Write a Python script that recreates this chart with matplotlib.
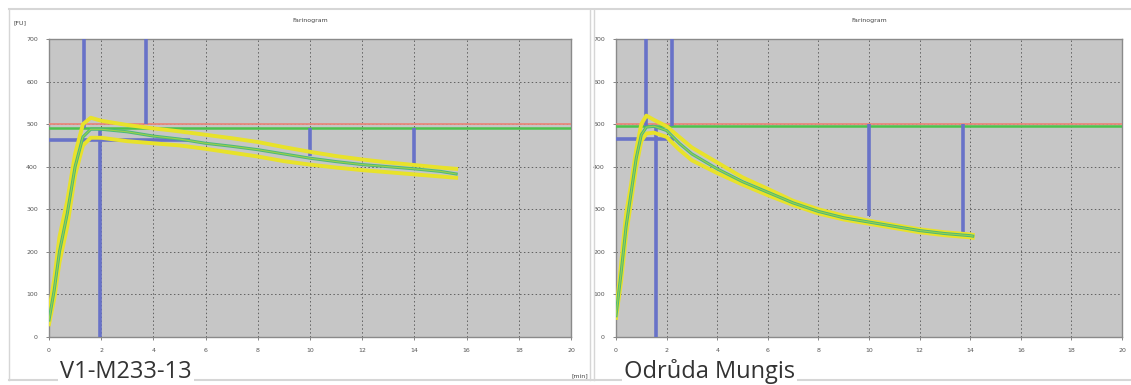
import numpy as np
import matplotlib.pyplot as plt
from matplotlib.lines import Line2D

# left panel - V1-M233-13
left_x = [0, 0.2, 0.4, 0.7, 1.0, 1.3, 1.6, 2.0, 3, 4, 5, 6, 7, 8, 9, 10, 11, 12, 13, 14, 15, 15.6]
left_mid = [40, 110, 200, 290, 400, 470, 488, 488, 482, 472, 465, 455, 448, 440, 430, 420, 412, 405, 400, 395, 389, 383]
left_hi = [60, 135, 235, 320, 430, 500, 515, 508, 498, 490, 483, 475, 467, 458, 446, 435, 425, 417, 410, 404, 398, 395]
left_lo = [30, 90, 175, 260, 380, 450, 468, 468, 460, 455, 450, 442, 433, 424, 413, 405, 398, 392, 387, 382, 377, 374]

# right panel - Odrůda Mungis
right_x = [0, 0.2, 0.4, 0.6, 0.8, 1.0, 1.2, 1.5, 2.0, 2.5, 3, 4, 5, 6, 7, 8, 9, 10, 11, 12, 13, 14, 14.1]
right_mid = [50, 150, 260, 340, 420, 475, 493, 495, 485, 455, 430, 395, 365, 340, 315, 295, 280, 270, 260, 250, 243, 238, 237]
right_hi = [55, 170, 290, 360, 440, 500, 520, 510, 495, 470, 445, 410, 375, 348, 320, 300, 285, 273, 263, 253, 246, 241, 240]
right_lo = [45, 130, 240, 320, 400, 460, 478, 480, 470, 440, 415, 385, 358, 333, 310, 290, 276, 266, 256, 246, 239, 234, 233]

# reference lines: (red level, green level)
left_levels = (500, 490)
right_levels = (500, 496)

# blue marker segments: (x0, x1, y0, y1)
left_marks = [(1.33, 1.33, 490, 700), (3.7, 3.7, 500, 700), (1.95, 1.95, 0, 490),
              (0, 5.4, 462, 462), (10.0, 10.0, 425, 490), (14.0, 14.0, 400, 490)]
right_marks = [(1.2, 1.2, 495, 700), (2.2, 2.2, 495, 700), (1.6, 1.6, 0, 495),
               (0, 2.3, 465, 465), (10.0, 10.0, 285, 500), (13.7, 13.7, 242, 500)]

xticks = list(range(0, 21, 2))
yticks = list(range(0, 701, 100))

W, H = 1131, 385
fig = plt.figure(figsize=(W / 100, H / 100), dpi=100)
fig.patch.set_facecolor('white')


def px(x0, y0, x1, y1):
    # pixel box (top-left origin) -> figure fraction rect
    return [x0 / W, 1 - y1 / H, (x1 - x0) / W, (y1 - y0) / H]


def draw_panel(rect, xs, mid, hi, lo, levels, marks, label, label_x):
    ax = fig.add_axes(rect)
    ax.set_facecolor('#c6c6c6')
    ax.set_xlim(0, 20)
    ax.set_ylim(0, 700)
    ax.set_xticks(xticks)
    ax.set_yticks(yticks)
    ax.tick_params(labelsize=4.5, colors='#555555', length=2, width=0.5, pad=6)
    ax.grid(True, color='#606060', linestyle=(0, (1.5, 2.5)), linewidth=0.7)
    ax.set_axisbelow(True)
    for s in ax.spines.values():
        s.set_color('#8a8a8a')
        s.set_linewidth(1.0)

    ax.axhline(levels[0], color='#e8897c', lw=1.3, zorder=3)
    ax.axhline(levels[1], color='#4cc24c', lw=1.8, zorder=3)
    for x0, x1, y0, y1 in marks:
        ax.plot([x0, x1], [y0, y1], color='#6872c8', lw=2.6, zorder=3, solid_capstyle='butt')

    ax.plot(xs, hi, color='#e8e22a', lw=2.8, zorder=4)
    ax.plot(xs, lo, color='#e8e22a', lw=2.8, zorder=4)
    ax.plot(xs, mid, color='#4cb87a', lw=2.2, zorder=5)
    ax.plot(xs, mid, color='#9ad24a', lw=0.8, zorder=6)

    ax.set_title('Farinogram', fontsize=4.5, color='#444444', pad=12)
    fig.text(label_x, 7 / H, label, fontsize=17, family='Open Sans', color='#333333',
             va='baseline', ha='left', zorder=10,
             bbox=dict(facecolor='white', edgecolor='none', pad=1.5))
    return ax


# panel frames
frame = '#d6d6d6'
fig.add_artist(Line2D([9 / W, 1], [1 - 9 / H] * 2, color=frame, lw=1.5))
fig.add_artist(Line2D([9 / W, 9 / W], [5 / H, 1 - 9 / H], color=frame, lw=1.0))
fig.add_artist(Line2D([590 / W, 590 / W], [5 / H, 1 - 9 / H], color=frame, lw=1.0))
fig.add_artist(Line2D([594 / W, 594 / W], [5 / H, 1 - 9 / H], color=frame, lw=1.0))
fig.add_artist(Line2D([9 / W, 1], [5 / H] * 2, color=frame, lw=1.5))

ax1 = draw_panel(px(49, 39, 571, 337), left_x, left_mid, left_hi, left_lo,
                 left_levels, left_marks, 'V1-M233-13', 60 / W)
ax2 = draw_panel(px(616, 39, 1122, 337), right_x, right_mid, right_hi, right_lo,
                 right_levels, right_marks, 'Odrůda Mungis', 624 / W)

fig.text(13 / W, 1 - 24 / H, '[FU]', fontsize=4.5, color='#444444')
fig.text(572 / W, 1 - 377 / H, '[min]', fontsize=4.5, color='#444444')

fig.savefig('out.png', dpi=100)
